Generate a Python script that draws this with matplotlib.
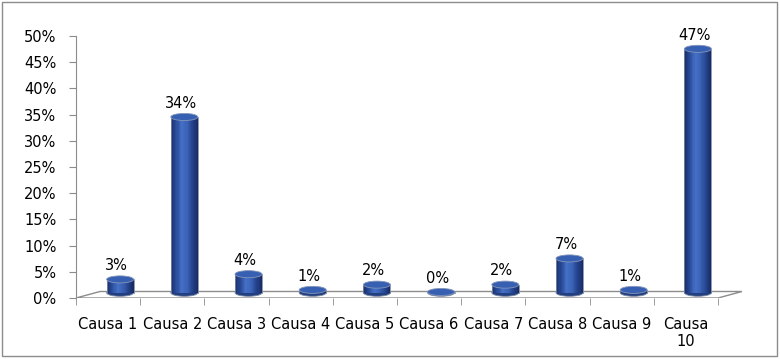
import numpy as np
import matplotlib
matplotlib.use('Agg')
import matplotlib.pyplot as plt
from matplotlib.patches import Ellipse, Polygon, Rectangle
from matplotlib.colors import LinearSegmentedColormap

categories = ['Causa 1', 'Causa 2', 'Causa 3', 'Causa 4', 'Causa 5',
              'Causa 6', 'Causa 7', 'Causa 8', 'Causa 9', 'Causa\n10']
values = [3, 34, 4, 1, 2, 0, 2, 7, 1, 47]
yticks = [0, 5, 10, 15, 20, 25, 30, 35, 40, 45, 50]


def main():
    fig = plt.figure(figsize=(7.8, 3.59), dpi=100)
    ax = fig.add_axes([76 / 780, 61 / 359, 666 / 780, 262 / 359])

    # depth of the 3d floor (in data units)
    dx = 0.374
    dy = 1.24
    n = len(categories)
    ax.set_xlim(-0.5, n - 0.5 + dx)
    ax.set_ylim(0, 50)

    grey = '#8c8c8c'
    for s in ['top', 'right', 'bottom']:
        ax.spines[s].set_visible(False)
    ax.spines['left'].set_color(grey)
    ax.spines['left'].set_bounds(0, 50)

    ax.set_yticks(yticks)
    ax.set_yticklabels([f'{t}%' for t in yticks], fontsize=10.5)
    ax.tick_params(axis='y', length=5, color=grey, pad=9)

    ax.set_xticks(range(n))
    ax.set_xticklabels(categories, fontsize=10.5, linespacing=1.1)
    ax.set_xticks(np.arange(-0.5, n, 1.0), minor=True)
    ax.tick_params(axis='x', which='major', length=0, pad=14)
    ax.tick_params(axis='x', which='minor', length=5, color=grey)

    # floor
    floor = Polygon([(-0.5, 0), (n - 0.5, 0), (n - 0.5 + dx, dy), (-0.5 + dx, dy)],
                    closed=True, facecolor='white', edgecolor=grey, lw=1.0, zorder=1)
    ax.add_patch(floor)

    cmap = LinearSegmentedColormap.from_list(
        'cyl', ['#1b3170', '#2b4d9c', '#4670c6', '#3a62b6', '#26458f', '#182c66'])
    w = 0.42
    eh = 1.35
    base = 1.0
    strips = 24
    for i, v in enumerate(values):
        cx = i + dx / 2
        top = max(base + 0.15, v + 0.55)
        h = top - base
        # bottom ellipse
        ax.add_patch(Ellipse((cx, base), w, eh, facecolor='#22407f',
                             edgecolor='#7d8aa3', lw=0.6, zorder=2))
        # body as thin strips to fake the shading
        edges = np.linspace(cx - w / 2, cx + w / 2, strips + 1)
        for k in range(strips):
            ax.bar(edges[k], h, width=edges[k + 1] - edges[k], bottom=base,
                   align='edge', color=cmap(k / (strips - 1)), lw=0, zorder=3)
        ax.plot([cx - w / 2, cx - w / 2], [base, top], color='#7d8aa3', lw=0.6, zorder=4)
        ax.plot([cx + w / 2, cx + w / 2], [base, top], color='#7d8aa3', lw=0.6, zorder=4)
        # top ellipse
        ax.add_patch(Ellipse((cx, top), w, eh, facecolor='#3760b2',
                             edgecolor='#8596b8', lw=0.6, zorder=5))
        ax.annotate(f'{v:.0f}%', (i + dx * 0.35, top + eh / 2), xytext=(0, 2),
                    textcoords='offset points', ha='center', va='bottom',
                    fontsize=10.5, zorder=6, annotation_clip=False)

    # chart border
    fig.add_artist(Rectangle((2 / 780, 3 / 359), 775 / 780, 354 / 359,
                             transform=fig.transFigure, fill=False,
                             edgecolor='#8c8c8c', lw=1.0))

    fig.savefig('out.png', dpi=100)


if __name__ == '__main__':
    main()
